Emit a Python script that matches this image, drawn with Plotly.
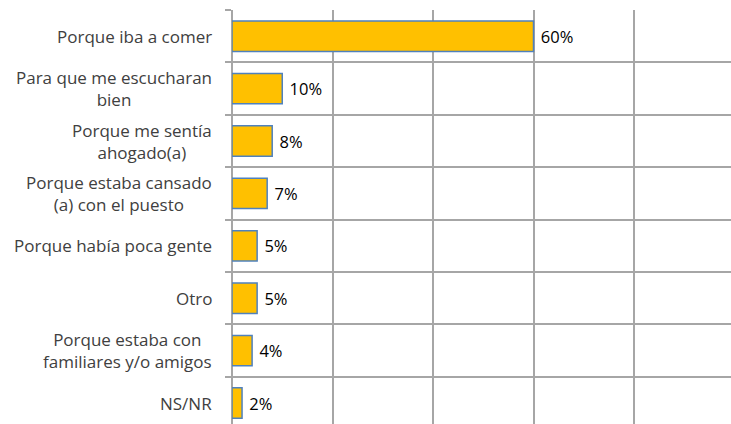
import plotly.graph_objects as go

categories = [
    "Porque iba a comer",
    "Para que me escucharan<br>bien",
    "Porque me sentía<br>ahogado(a)",
    "Porque estaba cansado<br>(a) con el puesto",
    "Porque había poca gente",
    "Otro",
    "Porque estaba con<br>familiares y/o amigos",
    "NS/NR",
]
values = [60, 10, 8, 7, 5, 5, 4, 2]
x_ticks = [0, 20, 40, 60, 80, 100]

GRID = "#A6A6A6"
FONT = "Open Sans, Noto Sans, sans-serif"

fig = go.Figure(go.Bar(
    y=categories,
    x=values,
    orientation="h",
    width=0.58,
    marker=dict(color="#FFC000", line=dict(color="#4F81BD", width=1.5)),
    texttemplate=" %{x}%",
    textposition="outside",
    textfont=dict(family=FONT, size=16.5, color="#000000", weight=500),
    cliponaxis=False,
    hoverinfo="skip",
))

for c in categories:
    fig.add_annotation(
        x=0, xref="paper", y=c, yref="y",
        text=c, showarrow=False,
        xanchor="right", yanchor="middle", align="center",
        xshift=-18,
        font=dict(family=FONT, size=17, color="#404040"),
    )

fig.update_layout(
    width=731, height=424,
    margin=dict(l=232, r=0, t=10, b=0),
    paper_bgcolor="white", plot_bgcolor="white",
    showlegend=False,
    xaxis=dict(
        range=[0, 99.3], tickvals=x_ticks, showticklabels=False,
        showgrid=True, gridcolor=GRID, gridwidth=2,
        zeroline=True, zerolinecolor=GRID, zerolinewidth=2,
        ticks="", showline=False, fixedrange=True, automargin=False,
    ),
    yaxis=dict(
        type="category", range=[7.40, -0.5],
        tickson="boundaries", ticks="outside", ticklen=6,
        tickcolor=GRID, tickwidth=2,
        showticklabels=False,
        showgrid=True, gridcolor=GRID, gridwidth=2,
        showline=False, zeroline=False, fixedrange=True, automargin=False,
    ),
)

fig.write_html(
    "out.html",
    config={"displayModeBar": False, "staticPlot": True},
    post_script="document.body.style.margin='0';document.body.style.overflow='hidden';",
)
